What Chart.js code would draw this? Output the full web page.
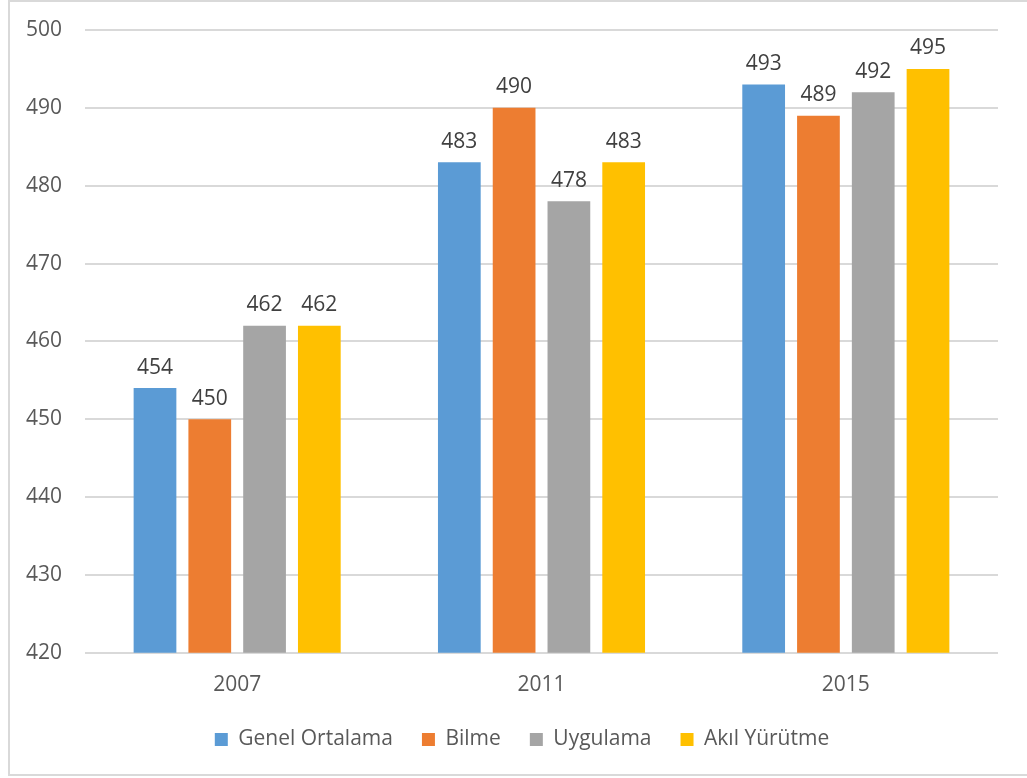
<!DOCTYPE html>
<html>
<head>
  <title>Puanlar</title>
  <script src="https://cdn.jsdelivr.net/npm/chart.js"></script>
  <style>
    body { margin: 0; background: #fff; }
    #wrap { width: 1027px; height: 778px; }
  </style>
</head>
<body>
  <div id="wrap"><canvas id="scoreChart" width="1027" height="778"></canvas></div>
  <script>
    const years = ['2007', '2011', '2015'];
    const genelOrtalama = [454, 483, 493];
    const bilme = [450, 490, 489];
    const uygulama = [462, 478, 492];
    const akilYurutme = [462, 483, 495];
    const yTicks = [420, 430, 440, 450, 460, 470, 480, 490, 500];

    const fontFamily = "'Open Sans', 'Noto Sans', sans-serif";

    // values above bars + outer frame
    const valueLabels = {
      id: 'valueLabels',
      afterLayout(chart) {
        // legend sits a bit right of centre in the original
        chart.legend.left += 10;
        chart.legend.right += 10;
      },
      afterDatasetsDraw(chart) {
        const ctx = chart.ctx;
        ctx.save();
        ctx.font = '21px ' + fontFamily;
        ctx.fillStyle = '#404040';
        ctx.textAlign = 'center';
        ctx.textBaseline = 'bottom';
        chart.data.datasets.forEach((ds, i) => {
          chart.getDatasetMeta(i).data.forEach((bar, j) => {
            ctx.fillText(ds.data[j], bar.x, bar.y - 10);
          });
        });
        ctx.restore();
      },
      beforeDraw(chart) {
        const ctx = chart.ctx;
        ctx.save();
        ctx.strokeStyle = '#d9d9d9';
        ctx.lineWidth = 2;
        ctx.strokeRect(9, 1, 1030, 774);
        ctx.restore();
      }
    };

    new Chart(document.getElementById('scoreChart').getContext('2d'), {
      type: 'bar',
      data: {
        labels: years,
        datasets: [
          { label: 'Genel Ortalama', data: genelOrtalama, backgroundColor: '#5B9BD5' },
          { label: 'Bilme', data: bilme, backgroundColor: '#ED7D31' },
          { label: 'Uygulama', data: uygulama, backgroundColor: '#A5A5A5' },
          { label: 'Akıl Yürütme', data: akilYurutme, backgroundColor: '#FFC000' }
        ]
      },
      options: {
        responsive: false,
        animation: false,
        layout: { padding: { left: 26, right: 29, top: 30, bottom: 18 } },
        datasets: { bar: { categoryPercentage: 0.72, barPercentage: 0.78 } },
        scales: {
          x: {
            afterFit(scale) { scale.height -= 10; },
            grid: { display: false },
            border: { display: false },
            ticks: { color: '#595959', font: { family: fontFamily, size: 21 }, padding: 12 }
          },
          y: {
            min: 420,
            max: 500,
            afterBuildTicks(axis) { axis.ticks = yTicks.map(v => ({ value: v })); },
            afterFit(scale) { scale.width = 59; },
            grid: { color: '#d9d9d9', lineWidth: 2, drawTicks: false },
            border: { display: false },
            ticks: { color: '#595959', font: { family: fontFamily, size: 21 }, padding: 0, crossAlign: 'far' }
          }
        },
        plugins: {
          legend: {
            position: 'bottom',
            labels: {
              color: '#595959',
              font: { family: fontFamily, size: 21 },
              boxWidth: 13,
              boxHeight: 13,
              padding: 29
            }
          },
          tooltip: { enabled: false }
        }
      },
      plugins: [valueLabels]
    });
  </script>
</body>
</html>
